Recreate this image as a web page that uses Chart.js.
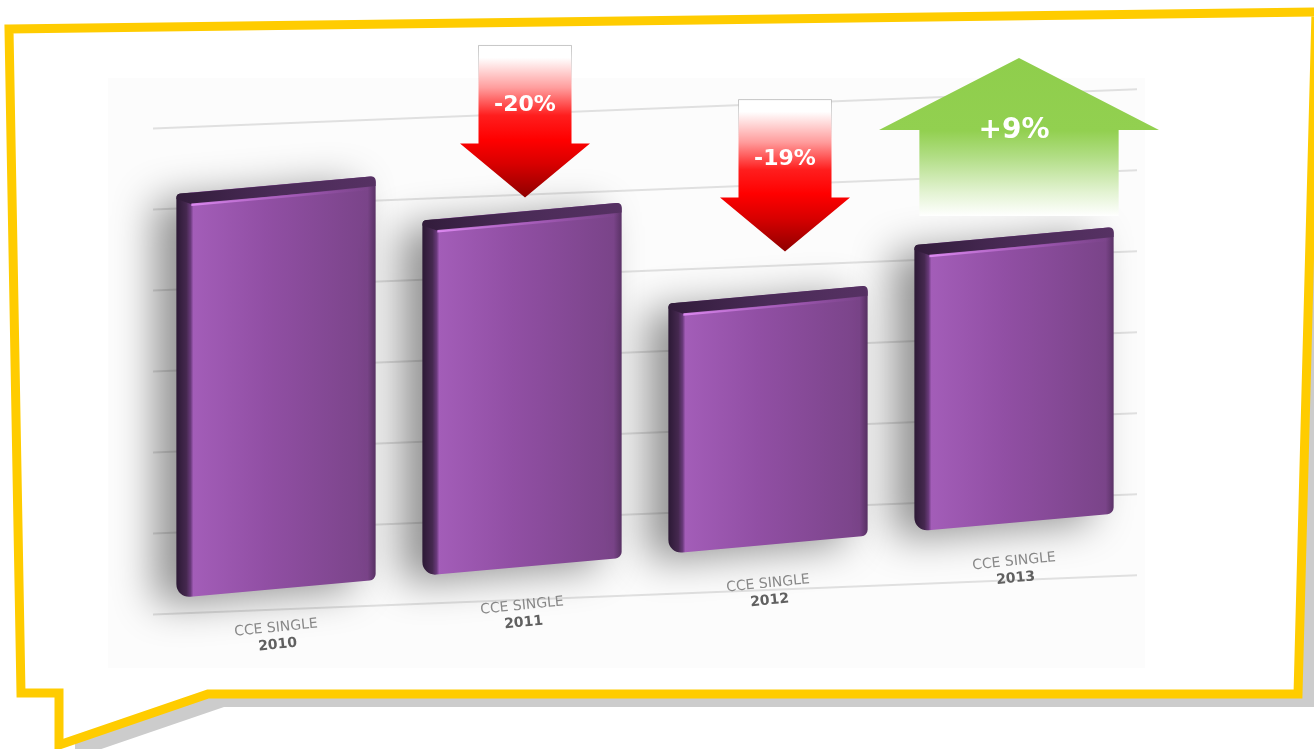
<!DOCTYPE html>
<html>
<head>
<meta charset="utf-8">
<script src="https://cdn.jsdelivr.net/npm/chart.js@4/dist/chart.umd.min.js"></script>
<style>
  html, body { margin: 0; padding: 0; background: #fff; }
  canvas { display: block; }
</style>
</head>
<body>
<canvas id="chart" width="1314" height="749"></canvas>
<script>
// data (no value axis shown, 2010 = 100)
const years = ['2010', '2011', '2012', '2013'];
const seriesName = 'CCE SINGLE';
const values = [100, 88, 62, 71];
const changeLabels = [null, '-20%', '-19%', '+9%'];
const yMin = 0, yMax = 120, yStep = 20;

// look
const BAR_SKEW = -0.09;
const GRID_SKEW = -0.04;
const arrowStyle = [
    null,
    {dir: 'down', gap: 14, dx: 3},
    {dir: 'down', gap: 43, dx: 17},
    {dir: 'up', gap: 178, dx: 5},
];
const bubble = [[9, 29], [1316, 12], [1298, 694], [208, 694], [59, 745], [59, 693], [21, 693]];

function barFill(context) {
    const chart = context.chart;
    if (context.type !== 'data' || !chart.chartArea) return '#8a4c9c';
    const cx = chart.scales.x.getPixelForValue(context.dataIndex);
    const w = (chart.chartArea.width / years.length) * 0.9 * 0.9;
    const g = chart.ctx.createLinearGradient(cx - w / 2, 0, cx + w / 2, 0);
    g.addColorStop(0, '#2c1935');
    g.addColorStop(0.05, '#45284f');
    g.addColorStop(0.072, '#6a3a7c');
    g.addColorStop(0.085, '#a35db8');
    g.addColorStop(0.45, '#914fa4');
    g.addColorStop(0.96, '#7a4489');
    g.addColorStop(1, '#5a3266');
    return g;
}

function tracePath(ctx, pts, dx, dy) {
    ctx.beginPath();
    pts.forEach((p, i) => i ? ctx.lineTo(p[0] + dx, p[1] + dy) : ctx.moveTo(p[0] + dx, p[1] + dy));
    ctx.closePath();
}

function downArrow(ctx, cx, tip, text) {
    const sw = 46.5, hw = 65, hh = 54, len = 152;
    const top = tip - len, sb = tip - hh;
    ctx.beginPath();
    ctx.moveTo(cx - sw, top); ctx.lineTo(cx + sw, top); ctx.lineTo(cx + sw, sb);
    ctx.lineTo(cx + hw, sb); ctx.lineTo(cx, tip); ctx.lineTo(cx - hw, sb);
    ctx.lineTo(cx - sw, sb); ctx.closePath();
    const g = ctx.createLinearGradient(0, top, 0, tip);
    g.addColorStop(0, '#ffffff');
    g.addColorStop(0.08, '#ffffff');
    g.addColorStop(0.28, '#ff9c9c');
    g.addColorStop(0.46, '#ff1e1e');
    g.addColorStop(0.62, '#ff0000');
    g.addColorStop(0.78, '#d80000');
    g.addColorStop(1, '#8e0000');
    ctx.fillStyle = g;
    ctx.fill();
    // faint outline at the white top
    const sg = ctx.createLinearGradient(0, top, 0, top + 40);
    sg.addColorStop(0, 'rgba(160,160,160,0.6)');
    sg.addColorStop(1, 'rgba(160,160,160,0)');
    ctx.strokeStyle = sg;
    ctx.lineWidth = 1;
    ctx.beginPath();
    ctx.moveTo(cx - sw, top + 40); ctx.lineTo(cx - sw, top); ctx.lineTo(cx + sw, top); ctx.lineTo(cx + sw, top + 40);
    ctx.stroke();
    ctx.fillStyle = '#ffffff';
    ctx.font = 'bold 22px "DejaVu Sans", Verdana, sans-serif';
    ctx.textAlign = 'center';
    ctx.textBaseline = 'middle';
    ctx.fillText(text, cx, tip - 92);
}

function upArrow(ctx, cx, tip, sw, text) {
    const hw = 140, hh = 72, len = 158;
    const hb = tip + hh, bottom = tip + len;
    ctx.beginPath();
    ctx.moveTo(cx, tip); ctx.lineTo(cx + hw, hb); ctx.lineTo(cx + sw / 2, hb);
    ctx.lineTo(cx + sw / 2, bottom); ctx.lineTo(cx - sw / 2, bottom);
    ctx.lineTo(cx - sw / 2, hb); ctx.lineTo(cx - hw, hb); ctx.closePath();
    const g = ctx.createLinearGradient(0, tip, 0, bottom);
    g.addColorStop(0, '#8fce4c');
    g.addColorStop(0.46, '#92d050');
    g.addColorStop(0.62, '#b0dd83');
    g.addColorStop(0.85, '#e3f3d2');
    g.addColorStop(1, '#ffffff');
    ctx.fillStyle = g;
    ctx.fill();
    ctx.fillStyle = '#ffffff';
    ctx.font = 'bold 28px "DejaVu Sans", Verdana, sans-serif';
    ctx.textAlign = 'center';
    ctx.textBaseline = 'middle';
    ctx.fillText(text, cx - 5, tip + 73);
}

const scenePlugin = {
    id: 'scene',
    beforeDraw(chart) {
        const ctx = chart.ctx;
        ctx.save();
        ctx.fillStyle = '#ffffff';
        ctx.fillRect(0, 0, chart.width, chart.height);
        // speech bubble with grey drop shadow (shadow only right of the tail)
        ctx.save();
        ctx.beginPath();
        ctx.rect(64, 0, chart.width, chart.height);
        ctx.clip();
        tracePath(ctx, bubble, 16, 13);
        ctx.fillStyle = '#cccccc';
        ctx.fill();
        ctx.restore();
        tracePath(ctx, bubble, 0, 0);
        ctx.fillStyle = '#ffffff';
        ctx.fill();
        ctx.lineWidth = 9;
        ctx.lineJoin = 'miter';
        ctx.strokeStyle = '#ffcc00';
        ctx.stroke();
        // very faint backdrop panel
        ctx.fillStyle = 'rgba(0,0,0,0.012)';
        ctx.fillRect(108, 78, 1037, 590);
        ctx.restore();
        // grid lines drawn tilted
        const xp = chart.scales.x.getPixelForValue(2);
        ctx.save();
        ctx.transform(1, GRID_SKEW, 0, 1, 0, -GRID_SKEW * xp);
    },
    beforeDatasetsDraw(chart) {
        const ctx = chart.ctx;
        ctx.restore();
        const xp = chart.scales.x.getPixelForValue(0);
        ctx.save();
        ctx.transform(1, BAR_SKEW, 0, 1, 0, -BAR_SKEW * xp);
        ctx.shadowColor = 'rgba(0,0,0,0.42)';
        ctx.shadowBlur = 40;
        ctx.shadowOffsetX = -22;
        ctx.shadowOffsetY = 8;
    },
    afterDatasetsDraw(chart) {
        const ctx = chart.ctx;
        ctx.shadowColor = 'rgba(0,0,0,0)';
        ctx.shadowBlur = 0;
        chart.getDatasetMeta(0).data.forEach(bar => {
            const {x, y, width} = bar.getProps(['x', 'y', 'width'], true);
            const l = x - width / 2, r = x + width / 2;
            // dark top face
            const tg = ctx.createLinearGradient(l, 0, r, 0);
            tg.addColorStop(0, '#321c3b');
            tg.addColorStop(0.5, '#4a2b57');
            tg.addColorStop(1, '#563163');
            ctx.fillStyle = tg;
            ctx.beginPath();
            ctx.moveTo(l + 3, y);
            ctx.lineTo(r - 5, y);
            ctx.quadraticCurveTo(r, y, r, y + 5);
            ctx.lineTo(r, y + 10);
            ctx.lineTo(l + 16, y + 12);
            ctx.lineTo(l, y + 5);
            ctx.quadraticCurveTo(l, y, l + 3, y);
            ctx.fill();
            // light rim under it
            const hg = ctx.createLinearGradient(l + 14, 0, r, 0);
            hg.addColorStop(0, 'rgba(225,140,245,0.95)');
            hg.addColorStop(0.6, 'rgba(180,100,200,0.5)');
            hg.addColorStop(1, 'rgba(150,80,170,0)');
            ctx.fillStyle = hg;
            ctx.fillRect(l + 15, y + 11, width - 17, 2.5);
        });
        ctx.restore();
    },
    afterDraw(chart) {
        const ctx = chart.ctx;
        const xs = chart.scales.x;
        const ys = chart.scales.y;
        const xp = xs.getPixelForValue(0);
        const base = ys.getPixelForValue(0);
        const bars = chart.getDatasetMeta(0).data;
        ctx.save();
        years.forEach((yr, i) => {
            const x = xs.getPixelForValue(i);
            const by = base + BAR_SKEW * (x - xp);
            ctx.save();
            ctx.translate(x, by + 38);
            ctx.rotate(-0.1);
            ctx.textAlign = 'center';
            ctx.textBaseline = 'middle';
            ctx.fillStyle = '#888888';
            ctx.font = '14px "DejaVu Sans", Verdana, sans-serif';
            ctx.fillText(seriesName, 0, 0);
            ctx.fillStyle = '#606060';
            ctx.font = 'bold 14px "DejaVu Sans", Verdana, sans-serif';
            ctx.fillText(yr, 0, 17);
            ctx.restore();
        });
        changeLabels.forEach((txt, i) => {
            const st = arrowStyle[i];
            if (!txt || !st) return;
            const bar = bars[i];
            const top = bar.y + BAR_SKEW * (bar.x - xp);
            const cx = bar.x + st.dx;
            if (st.dir === 'down') downArrow(ctx, cx, top - st.gap, txt);
            else upArrow(ctx, cx, top - st.gap, bar.width, txt);
        });
        ctx.restore();
    }
};

new Chart(document.getElementById('chart'), {
    type: 'bar',
    data: {
        labels: years,
        datasets: [{
            label: seriesName,
            data: values,
            backgroundColor: barFill,
            borderRadius: {topLeft: 4, topRight: 6, bottomLeft: 14, bottomRight: 6},
            borderSkipped: false,
            categoryPercentage: 0.9,
            barPercentage: 0.9,
            clip: false,
        }],
    },
    options: {
        responsive: false,
        animation: false,
        layout: {padding: {left: 153, right: 177, top: 104, bottom: 159}},
        plugins: {
            legend: {display: false},
            tooltip: {enabled: false},
            title: {display: false},
        },
        scales: {
            x: {display: false},
            y: {
                min: yMin,
                max: yMax,
                ticks: {display: false, stepSize: yStep},
                grid: {color: '#e0e0e0', lineWidth: 2, drawTicks: false},
                border: {display: false},
            },
        },
    },
    plugins: [scenePlugin],
});
</script>
</body>
</html>
